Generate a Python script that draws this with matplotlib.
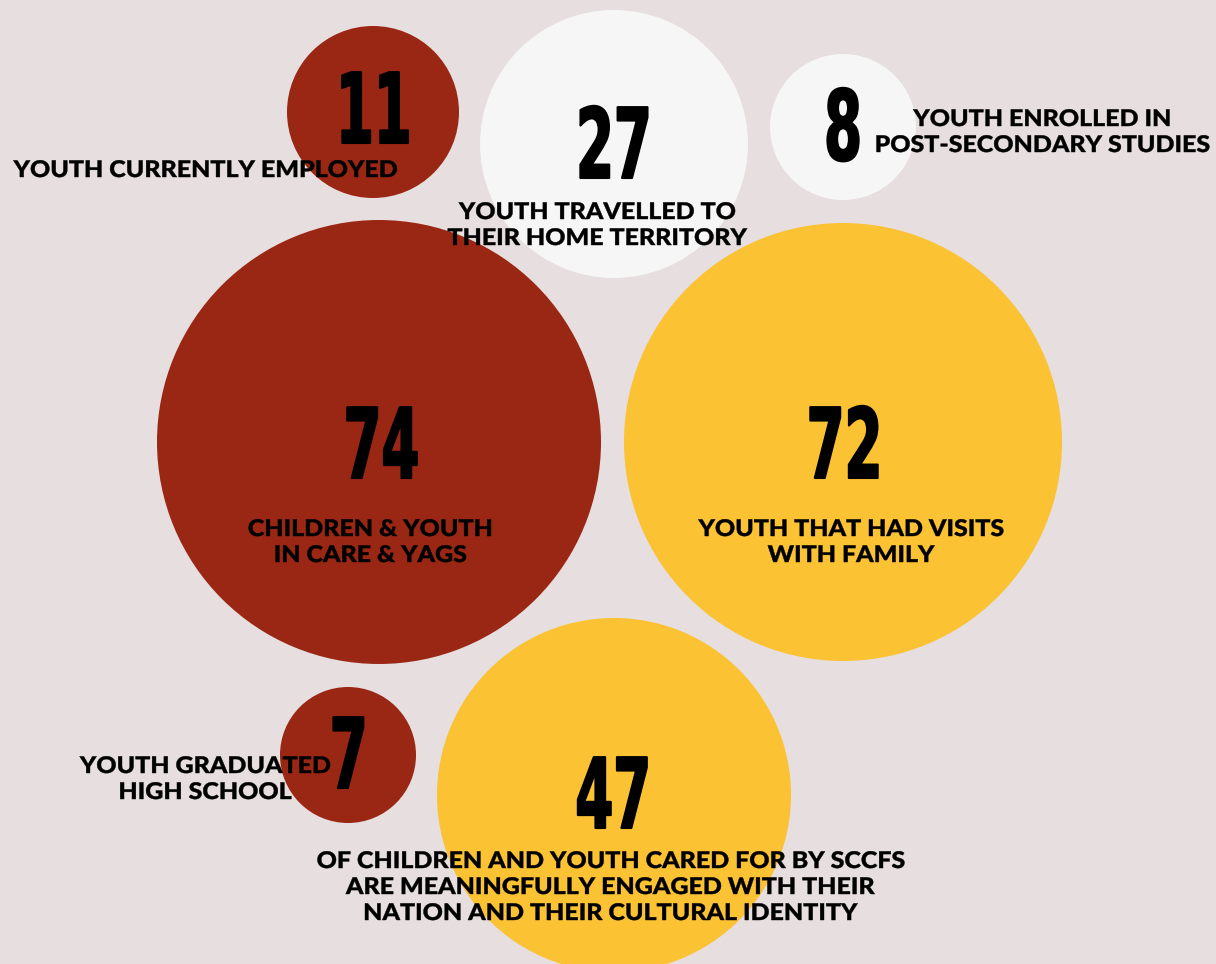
import matplotlib
matplotlib.use("Agg")
import matplotlib.pyplot as plt
from matplotlib.patches import Circle
from matplotlib.patheffects import AbstractPathEffect
from matplotlib.transforms import Affine2D

# ---- data ----
values = ["11", "27", "8", "74", "72", "7", "47"]
labels = [
    "YOUTH CURRENTLY EMPLOYED",
    "YOUTH TRAVELLED TO\nTHEIR HOME TERRITORY",
    "YOUTH ENROLLED IN\nPOST-SECONDARY STUDIES",
    "CHILDREN & YOUTH\nIN CARE & YAGS",
    "YOUTH THAT HAD VISITS\nWITH FAMILY",
    "YOUTH GRADUATED\nHIGH SCHOOL",
    "OF CHILDREN AND YOUTH CARED FOR BY SCCFS\nARE MEANINGFULLY ENGAGED WITH THEIR\nNATION AND THEIR CULTURAL IDENTITY",
]

# ---- layout (pixel space) ----
RED, YEL, WHT, BG = "#9A2614", "#FBC234", "#F6F6F6", "#E6DEDF"
circles = [  # cx, cy, r, color
    (373, 112, 86, RED),
    (614, 144, 134, WHT),
    (843, 127, 73, WHT),
    (379, 442, 222, RED),
    (843, 442, 219, YEL),
    (348, 755, 68, RED),
    (614, 795, 177, YEL),
]
num_pos = [(373, 143), (614, 178), (843, 160), (381, 478), (845, 478), (349, 788), (614, 828)]
lab_pos = [(205, 177), (597, 219), (1042, 126), (370, 536), (851, 536), (205, 773), (610, 868)]
LINE = 26


class Stretch(AbstractPathEffect):
    """Horizontally stretch text about its centre, optionally embolden."""
    def __init__(self, sx, lw=0.0):
        super().__init__()
        self.sx = sx
        self.lw = lw

    def draw_path(self, renderer, gc, tpath, affine, rgbFace=None):
        bb = tpath.get_extents(affine)
        cx = 0.5 * (bb.x0 + bb.x1)
        aff = affine + Affine2D().translate(-cx, 0).scale(self.sx, 1).translate(cx, 0)
        if self.lw > 0:
            gc0 = renderer.new_gc()
            gc0.copy_properties(gc)
            gc0.set_linewidth(self.lw)
            gc0.set_foreground(rgbFace if rgbFace is not None else "black")
            gc0.set_joinstyle("round")
            renderer.draw_path(gc0, tpath, aff, rgbFace)
            gc0.restore()
        else:
            renderer.draw_path(gc, tpath, aff, rgbFace)


W, H = 1216, 964
fig = plt.figure(figsize=(W / 100, H / 100), dpi=100, facecolor=BG)
ax = fig.add_axes([0, 0, 1, 1])
ax.set_xlim(0, W)
ax.set_ylim(H, 0)
ax.set_aspect("equal")
ax.axis("off")
ax.set_facecolor(BG)

for cx, cy, r, c in circles:
    ax.add_patch(Circle((cx, cy), r, facecolor=c, edgecolor="none"))

for v, (x, y) in zip(values, num_pos):
    ax.text(x, y, v, ha="center", va="baseline", fontsize=70,
            family="DejaVu Sans", weight="bold", color="black",
            path_effects=[Stretch(0.56, 1.5)])

for lab, (x, y) in zip(labels, lab_pos):
    for i, line in enumerate(lab.split("\n")):
        ax.text(x, y + i * LINE, line, ha="center", va="baseline", fontsize=16.5,
                family=["Lato", "DejaVu Sans"], weight="black", color="black",
                path_effects=[Stretch(1.09, 0.3)])

fig.savefig("out.png", dpi=100, facecolor=BG)
